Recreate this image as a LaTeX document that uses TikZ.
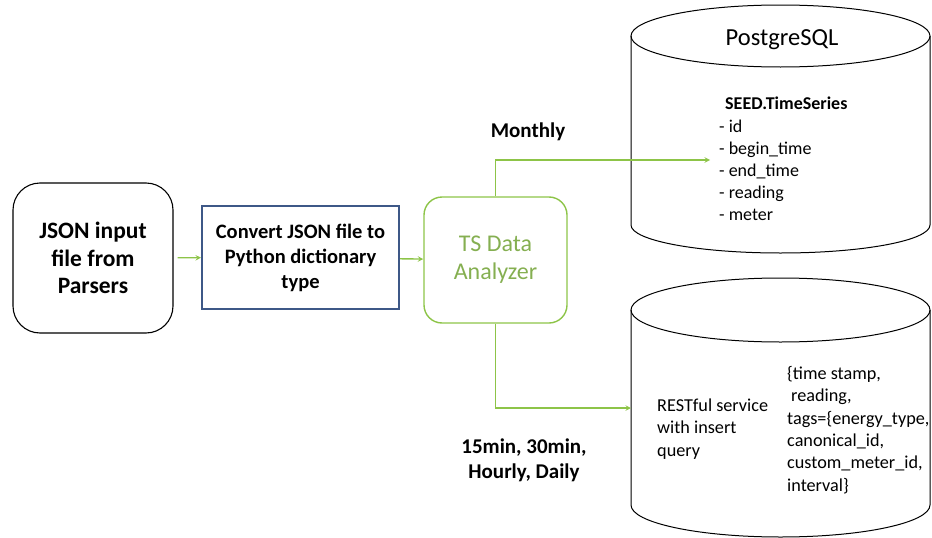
\documentclass[tikz,border=0pt]{standalone}
\usepackage{fontspec}
\setmainfont{Carlito}
\usetikzlibrary{positioning}
\usetikzlibrary{shapes.geometric, arrows}

\definecolor{tsgreen}{RGB}{141,196,72}
\definecolor{boxblue}{RGB}{62,88,135}

\begin{document}
\begin{tikzpicture}[x=1pt,y=-1pt]
    \useasboundingbox (0,0) rectangle (932,538);

    \tikzstyle{flow} = [draw=tsgreen, line width=1.4pt, -stealth]
    \tikzstyle{inputbox} = [draw, line width=1.1pt, rounded corners=27pt, minimum width=160pt, minimum height=150pt, align=center, font=\bfseries\fontsize{23.5}{27.5}\selectfont]
    \tikzstyle{convbox} = [draw=boxblue, line width=2pt, minimum width=197pt, minimum height=103pt, align=center, font=\bfseries\fontsize{20.5}{25}\selectfont]
    \tikzstyle{tsbox} = [draw=tsgreen, line width=1.4pt, rounded corners=18pt, minimum width=143pt, minimum height=126pt, align=center, text=tsgreen!85!black!90, font=\fontsize{24}{28}\selectfont]
    \tikzstyle{rate} = [align=center, font=\bfseries\fontsize{21}{25}\selectfont]
    \tikzstyle{dbtext} = [inner sep=0pt, align=left, font=\fontsize{18.2}{22.3}\selectfont]

    % boxes
    \node[inputbox] (json) at (93,258) {JSON input\\file from\\Parsers};
    \node[convbox] (conv) at (300.5,257.5) {Convert JSON file to\\Python dictionary\\type};
    \node[tsbox] (ts) at (495.5,260) {TS Data\\Analyzer};

    % databases
    \draw[line width=1pt] (631,36) -- (631,225) arc[start angle=180, end angle=0, x radius=149.5, y radius=28] -- (930,36);
    \draw[line width=1pt] (780.5,36) ellipse [x radius=149.5, y radius=31];
    \draw[line width=1pt] (631,310) -- (631,505) arc[start angle=180, end angle=0, x radius=149.5, y radius=32] -- (930,310);
    \draw[line width=1pt] (780.5,310) ellipse [x radius=149.5, y radius=32];

    \node[font=\fontsize{24.5}{28}\selectfont] (pg) at (782,40) {PostgreSQL};
    \node[dbtext, anchor=north west, font=\fontsize{18}{22.2}\selectfont] (fields) at (719,97) {\hspace{6pt}\textbf{SEED.TimeSeries}\\- id\\- begin\_time\\- end\_time\\- reading\\- meter};
    \node[dbtext, anchor=west] (rest) at (657,429) {RESTful service\\with insert\\query};
    \node[dbtext, anchor=west] (tags) at (787,430) {\{time stamp,\\\hspace{4pt}reading,\\tags=\{energy\_type,\\canonical\_id,\\custom\_meter\_id,\\interval\}};

    \coordinate (pgin) at (710,160);
    \coordinate (restin) at (631,408);

    % arrows
    \draw[flow, shorten <=4pt] (json) -- (conv);
    \draw[flow] (conv) -- (ts);
    \draw[flow] (ts.north) |- (pgin);
    \draw[flow] (ts.south) |- (restin);

    \node[rate] (monthly) at (528,132) {Monthly};
    \node[rate] (rates) at (524,460) {15min, 30min,\\Hourly, Daily};
\end{tikzpicture}
\end{document}
